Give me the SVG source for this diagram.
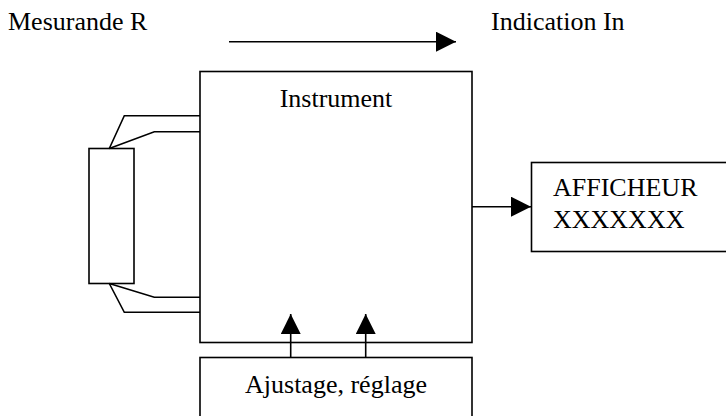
<svg xmlns="http://www.w3.org/2000/svg" width="726" height="416" viewBox="0 0 726 416">
<defs>
<style>
.t{font-family:"Liberation Serif","Times New Roman",serif;font-size:26px;fill:#000}
.b{fill:#fff;stroke:#000;stroke-width:1.6}
.l{fill:none;stroke:#000;stroke-width:1.6}
</style>
<marker id="ah" markerUnits="userSpaceOnUse" markerWidth="21" markerHeight="21" refX="20" refY="10" orient="auto" viewBox="0 0 21 21">
<path d="M0,0 L20,10 L0,20 Z" fill="#000"/>
</marker>
</defs>
<rect width="726" height="416" fill="#fff"/>
<text class="t" x="8" y="30">Mesurande R</text>
<text class="t" x="491" y="30">Indication In</text>
<g id="instrument">
<rect class="b" x="200" y="71.5" width="272" height="271"/>
<text class="t" x="336" y="107" text-anchor="middle">Instrument</text>
</g>
<g id="capteur">
<rect class="b" x="89" y="148.5" width="45" height="135"/>
</g>
<g id="afficheur">
<rect class="b" x="531.5" y="162.5" width="200" height="89"/>
<text class="t" x="553" y="196">AFFICHEUR</text>
<text class="t" x="553" y="228">XXXXXXX</text>
</g>
<g id="ajustage">
<rect class="b" x="200" y="357.5" width="272" height="70"/>
<text class="t" x="336" y="393" text-anchor="middle">Ajustage, réglage</text>
</g>
<g id="connectors">
<line class="l" x1="229" y1="41.7" x2="456" y2="41.7" marker-end="url(#ah)"/>
<line class="l" x1="472" y1="206.7" x2="531" y2="206.7" marker-end="url(#ah)"/>
<line class="l" x1="290.7" y1="357.5" x2="290.7" y2="314" marker-end="url(#ah)"/>
<line class="l" x1="365.7" y1="357.5" x2="365.7" y2="314" marker-end="url(#ah)"/>
<polyline class="l" points="109.3,148.5 124.3,115.7 200,115.7"/>
<polyline class="l" points="109.3,148.5 154.3,131.7 200,131.7"/>
<polyline class="l" points="109.3,283.5 154.3,297.3 200,297.3"/>
<polyline class="l" points="109.3,283.5 124.3,312.3 200,312.3"/>
</g>
</svg>
